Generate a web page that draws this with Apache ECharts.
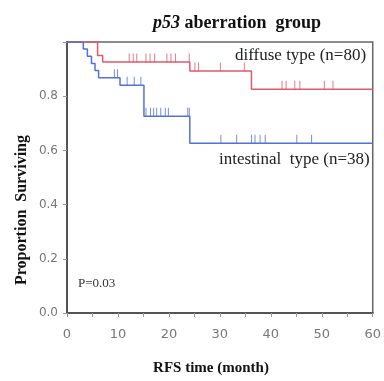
<!DOCTYPE html>
<html>
<head>
<meta charset="utf-8">
<script src="https://cdn.jsdelivr.net/npm/echarts@6/dist/echarts.min.js"></script>
<style>
  html, body { margin: 0; padding: 0; background: #fff; }
  #main { width: 384px; height: 381px; }
</style>
</head>
<body>
<div id="main"></div>
<script>
// step points (time in months, proportion surviving)
var diffuseTimes = [0, 6.0, 7.0, 24.1, 36.2, 60];
var diffuseSurv  = [1.0, 0.95, 0.926, 0.893, 0.826, 0.826];
var diffuseCensor = [12.2, 13.0, 13.7, 15.5, 16.3, 17.2, 19.6, 20.4, 21.3, 24.0,
                     25.1, 25.8, 30.1, 34.8, 42.2, 43.0, 44.7, 45.7, 50.5, 52.2];

var intestTimes = [0, 3.2, 4.0, 4.8, 5.5, 6.2, 10.4, 15.1, 24.1, 60];
var intestSurv  = [1.0, 0.974, 0.947, 0.921, 0.895, 0.868, 0.84, 0.726, 0.626, 0.626];
var intestCensor = [9.3, 9.9, 11.8, 13.2, 14.5, 15.5, 16.4, 17.0, 17.6, 18.4, 19.3, 19.9,
                    23.7, 24.0, 30.2, 33.3, 36.2, 36.9, 37.9, 38.9, 45.1, 48.0];

var xTicks = [0, 10, 20, 30, 40, 50, 60];
var yTicks = [0.0, 0.2, 0.4, 0.6, 0.8];

var red = '#e05a6a';
var blue = '#5272d8';

function levelAt(times, surv, t) {
  var v = surv[0];
  for (var i = 0; i < times.length; i++) {
    if (times[i] <= t) v = surv[i];
  }
  return v;
}
function pairs(times, surv) {
  return times.map(function (t, i) { return [t, surv[i]]; });
}
function censorPts(list, times, surv) {
  return list.map(function (t) { return [t, levelAt(times, surv, t)]; });
}

var serif = 'Liberation Serif';
var chart = echarts.init(document.getElementById('main'));
chart.setOption({
  animation: false,
  title: {
    text: '{i|p53} aberration  group',
    left: 232, top: 9, textAlign: 'center',
    textStyle: {
      fontFamily: serif, fontWeight: 'bold', fontSize: 18, color: '#111',
      rich: { i: { fontFamily: serif, fontStyle: 'italic', fontWeight: 'bold', fontSize: 18, color: '#111' } }
    }
  },
  grid: {
    left: 67, right: 7, top: 42, bottom: 68,
    show: true, borderColor: '#666', borderWidth: 1.5
  },
  xAxis: {
    type: 'value', min: 0, max: 60, interval: 5,
    axisLine: { lineStyle: { color: '#555', width: 2 } },
    axisTick: { length: 4, lineStyle: { color: '#999' } },
    splitLine: { show: false },
    axisLabel: {
      fontFamily: 'DejaVu Sans', fontSize: 13, color: '#777', margin: 15,
      formatter: function (v) { return xTicks.indexOf(v) >= 0 ? String(v) : ''; }
    }
  },
  yAxis: {
    type: 'value', min: 0, max: 1, interval: 0.2,
    axisLine: { show: true, lineStyle: { color: '#555', width: 2 } },
    axisTick: { show: true, length: 4, lineStyle: { color: '#999' } },
    splitLine: { show: false },
    axisLabel: {
      fontFamily: 'DejaVu Sans', fontSize: 12, color: '#777', margin: 9,
      formatter: function (v) {
        for (var i = 0; i < yTicks.length; i++) {
          if (Math.abs(yTicks[i] - v) < 1e-6) return v.toFixed(1);
        }
        return '';
      }
    }
  },
  series: [
    {
      type: 'line', step: 'end', showSymbol: false, z: 3,
      data: pairs(diffuseTimes, diffuseSurv),
      lineStyle: { color: red, width: 1.5 }
    },
    {
      type: 'line', step: 'end', showSymbol: false, z: 3,
      data: pairs(intestTimes, intestSurv),
      lineStyle: { color: blue, width: 1.5 }
    },
    {
      type: 'scatter', symbol: 'rect', symbolSize: [1, 9], symbolOffset: [0, -4],
      data: censorPts(diffuseCensor, diffuseTimes, diffuseSurv),
      itemStyle: { color: red }
    },
    {
      type: 'scatter', symbol: 'rect', symbolSize: [1, 9], symbolOffset: [0, -4],
      data: censorPts(intestCensor, intestTimes, intestSurv),
      itemStyle: { color: blue }
    }
  ],
  graphic: [
    { type: 'text', x: 235, y: 56,
      style: { text: 'diffuse type (n=80)', font: '17px "Liberation Serif"', fill: '#222',
               verticalAlign: 'middle' } },
    { type: 'text', x: 219, y: 160,
      style: { text: 'intestinal  type (n=38)', font: '17px "Liberation Serif"', fill: '#222',
               verticalAlign: 'middle' } },
    { type: 'text', x: 78, y: 284,
      style: { text: 'P=0.03', font: '13px "Liberation Serif"', fill: '#333',
               verticalAlign: 'middle' } },
    { type: 'text', x: 211, y: 368,
      style: { text: 'RFS time (month)', font: 'bold 15px "Liberation Serif"', fill: '#111',
               align: 'center', verticalAlign: 'middle' } },
    { type: 'text', x: 22, y: 210, rotation: Math.PI / 2,
      style: { text: 'Proportion  Surviving', font: 'bold 16px "Liberation Serif"', fill: '#111',
               align: 'center', verticalAlign: 'middle' } }
  ]
});
</script>
</body>
</html>
